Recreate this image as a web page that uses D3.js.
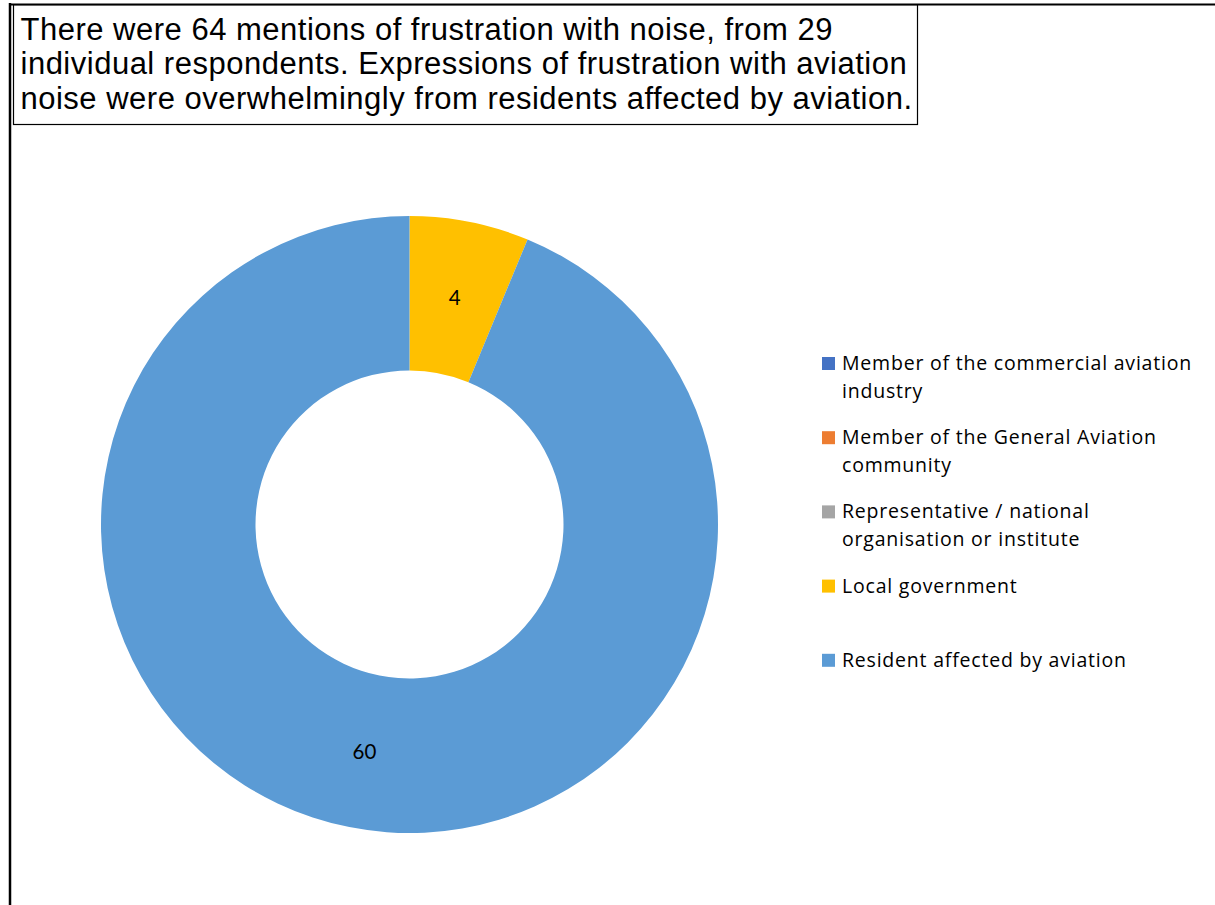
<!DOCTYPE html>
<html><head><meta charset="utf-8">
<script src="https://cdn.jsdelivr.net/npm/d3@7"></script>
<style>body{margin:0;background:#fff;}svg{display:block;}</style>
</head><body>
<script>
const categories = ["Member of the commercial aviation industry","Member of the General Aviation community","Representative / national organisation or institute","Local government","Resident affected by aviation"];
const legendLines = [["Member of the commercial aviation","industry"],["Member of the General Aviation","community"],["Representative / national","organisation or institute"],["Local government"],["Resident affected by aviation"]];
const values = [0,0,0,4,60];
const colors = ["#4472C4","#ED7D31","#A5A5A5","#FFC000","#5B9BD5"];
const titleLines = ["There were 64 mentions of frustration with noise, from 29","individual respondents. Expressions of frustration with aviation","noise were overwhelmingly from residents affected by aviation."];

const W=1215,H=905;
const svg=d3.select("body").append("svg").attr("width",W).attr("height",H);

// frame
svg.append("line").attr("x1",10).attr("x2",10).attr("y1",3).attr("y2",H).attr("stroke","#000").attr("stroke-width",2.5);
svg.append("line").attr("x1",9).attr("x2",W).attr("y1",4.5).attr("y2",4.5).attr("stroke","#000").attr("stroke-width",2);
// title box
svg.append("rect").attr("x",13.5).attr("y",5).attr("width",904).attr("height",119.5).attr("fill","#fff").attr("stroke","#000").attr("stroke-width",1.2);
const tt=svg.append("g").selectAll("text").data(titleLines).join("text")
  .attr("x",20.5).attr("y",(d,i)=>39.5+i*34.5)
  .attr("font-family","'Liberation Sans', Arial, sans-serif").attr("font-size",31).attr("fill","#000").text(d=>d);
{
  const n=tt.nodes()[2]; const w=n.getComputedTextLength();
  const ls=(892-w)/titleLines[2].length;
  tt.attr("letter-spacing",ls);
}

// donut
const cx=409.5, cy=524.5, rOuter=308.5, rInner=154;
const pie=d3.pie().value(d=>d).sort(null);
const arcs=pie(values);
const arc=d3.arc().innerRadius(rInner).outerRadius(rOuter);
const labelArc=d3.arc().innerRadius((rInner+rOuter)/2).outerRadius((rInner+rOuter)/2);
const g=svg.append("g").attr("transform",`translate(${cx},${cy})`);
g.selectAll("path").data(arcs).join("path").attr("d",arc).attr("fill",(d,i)=>colors[i]);
g.selectAll("text").data(arcs.filter(d=>d.value>0)).join("text")
  .attr("transform",d=>`translate(${labelArc.centroid(d)})`)
  .attr("text-anchor","middle").attr("dy","0.36em")
  .attr("font-family","Lato, 'Open Sans', sans-serif").attr("font-size",20.5).attr("fill","#000")
  .text(d=>d.value);

// legend
const lg=svg.append("g").attr("transform","translate(822,0)");
const items=lg.selectAll("g").data(categories).join("g").attr("transform",(d,i)=>`translate(0,${370+i*74.2})`);
items.append("rect").attr("x",0).attr("y",-13).attr("width",13).attr("height",13).attr("fill",(d,i)=>colors[i]);
items.each(function(d,i){
  d3.select(this).selectAll("text").data(legendLines[i]).join("text")
    .attr("class","lt")
    .attr("x",20).attr("y",(t,j)=>j*28)
    .attr("font-family","'Open Sans', Lato, sans-serif").attr("font-size",19.5).attr("fill","#000").text(t=>t);
});
{
  const lt=svg.selectAll("text.lt");
  const n=lt.nodes()[0]; const w=n.getComputedTextLength();
  const ls=(350-w)/legendLines[0][0].length;
  lt.attr("letter-spacing",ls);
}
</script>
</body></html>
